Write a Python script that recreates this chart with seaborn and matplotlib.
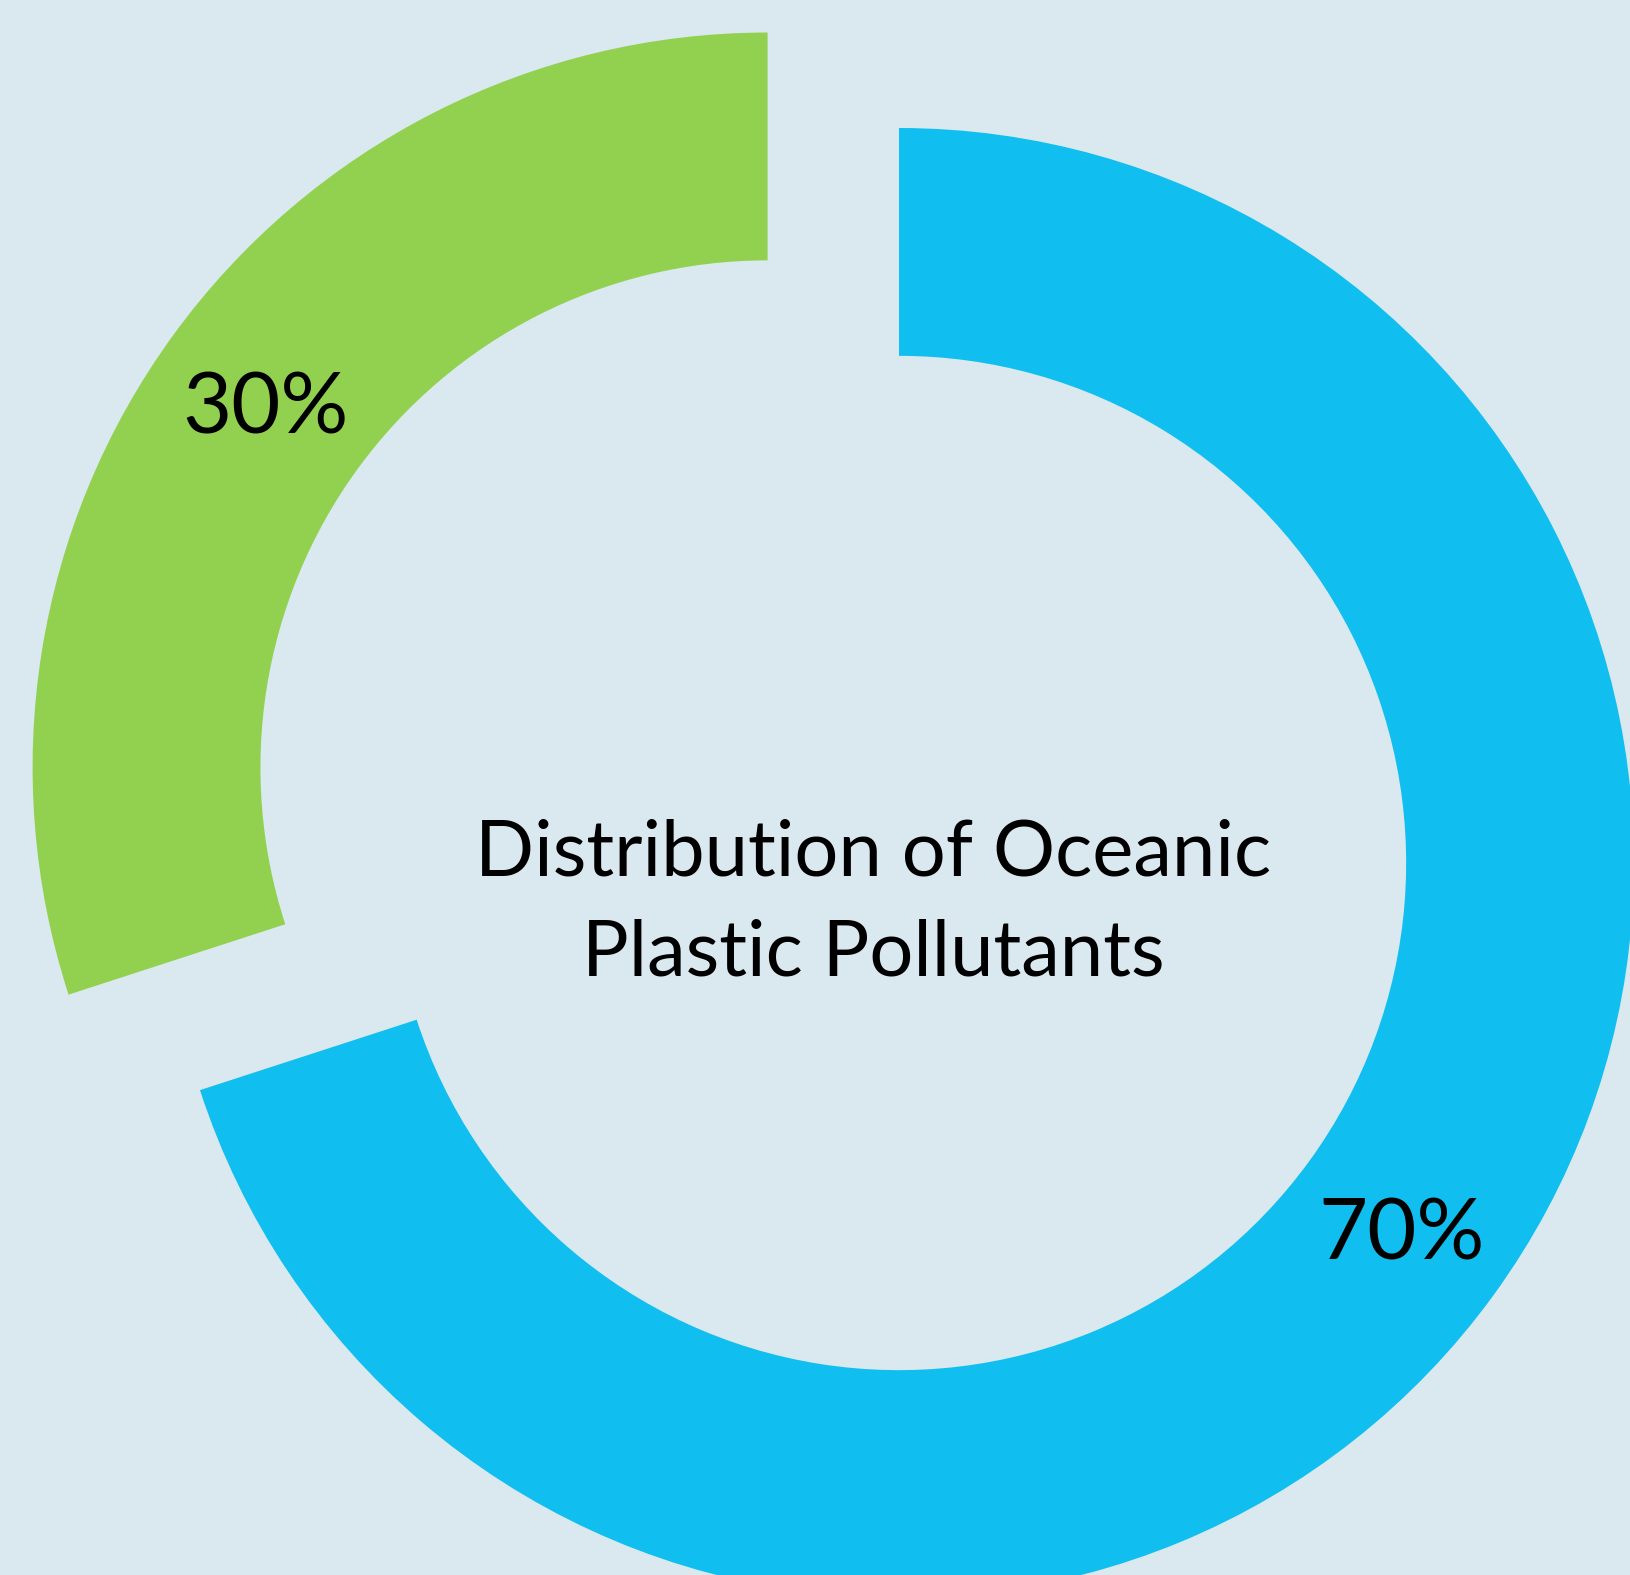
import matplotlib
matplotlib.use("Agg")
import matplotlib.pyplot as plt
import seaborn as sns

# Data
categories = ["Other", "Plastic"]
shares = [30, 70]
colors = ["#92D150", "#10BFEF"]
center_title = "Distribution of Oceanic\nPlastic Pollutants"

sns.set_theme(style="white")
plt.rcParams["font.family"] = ["Lato", "DejaVu Sans"]

W, H, DPI = 1630, 1575, 100
fig = plt.figure(figsize=(W / DPI, H / DPI), dpi=DPI)
bg = "#dae8f0"
fig.patch.set_facecolor(bg)
ax = fig.add_axes([0, 0, 1, 1])
ax.set_facecolor(bg)

wedges, texts, autotexts = ax.pie(
    shares,
    colors=colors,
    startangle=90,
    counterclock=True,
    explode=[0.221, 0],
    radius=1.0,
    pctdistance=0.845,
    autopct=lambda p: f"{p:.0f}%",
    wedgeprops=dict(width=0.31, linewidth=0),
    textprops=dict(fontsize=61, color="black"),
)
for t in autotexts:
    x, y = t.get_position()
    t.set_position((x, y - 0.01))

ax.text(-0.035, -0.056, center_title, ha="center", va="center",
        fontsize=56, color="black", linespacing=1.5)

R = 735.0
cx, cy = 899.0, 863.0
ax.set_xlim(-cx / R, (W - cx) / R)
ax.set_ylim(-(H - cy) / R, cy / R)
ax.set_aspect("auto")
ax.axis("off")

fig.savefig("out.png", dpi=DPI, facecolor=bg)
